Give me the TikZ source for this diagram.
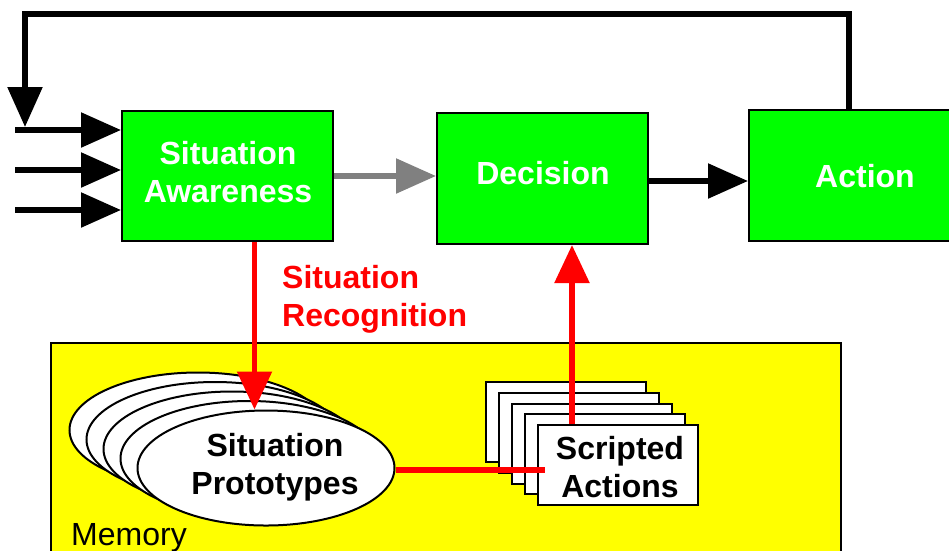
\documentclass[tikz,border=0pt]{standalone}
\usepackage{fontspec}
\setmainfont{Liberation Sans}
\usetikzlibrary{arrows.meta,shapes.geometric,calc}
\definecolor{boxgreen}{HTML}{00FF00}
\definecolor{memyellow}{HTML}{FFFF00}
\definecolor{linered}{HTML}{FF0000}
\definecolor{linegray}{HTML}{808080}
\newcommand\dgbold{\fontsize{32}{37.5}\selectfont\bfseries}
\newcommand\dgreg{\fontsize{32}{37.5}\selectfont}
\begin{document}
\begin{tikzpicture}[x=1pt,y=-1pt,
  greenbox/.style={draw=black,line width=2pt,fill=boxgreen,inner sep=0pt},
  boxtext/.style={text=white,font=\dgbold,align=center,inner sep=0pt},
  membox/.style={draw=black,line width=2pt,fill=memyellow,inner sep=0pt},
  protoell/.style={ellipse,draw=black,line width=2pt,fill=white,inner sep=0pt,minimum width=257pt,minimum height=115pt},
  scriptbox/.style={draw=black,line width=2pt,fill=white,inner sep=0pt,minimum width=160pt,minimum height=80pt},
  blacktext/.style={font=\dgbold,align=center,inner sep=0pt},
  blackarrow/.style={draw=black,line width=5.5pt,line join=miter,-{Triangle[length=40pt,width=34pt]}},
  grayarrow/.style={draw=linegray,line width=5.5pt,-{Triangle[length=40pt,width=34pt]}},
  redarrow/.style={draw=linered,line width=5.5pt,-{Triangle[length=38pt,width=34pt]}},
  redline/.style={draw=linered,line width=5.5pt}
]
\useasboundingbox (0,0) rectangle (949,550);
\fill[white] (0,0) rectangle (949,550);

% memory region
\node[membox,minimum width=790pt,minimum height=240pt,anchor=north west] (mem) at (50,342) {};
\node[anchor=west,font=\dgreg,inner sep=0pt] (memlbl) at (71,538) {Memory};

% situation prototypes (stacked ellipses)
\foreach \i in {4,3,2,1} {
  \node[protoell] (p\i) at ({266-17*\i},{468-9.5*\i}) {};
}
\node[protoell] (proto) at (266,468) {};
\node[blacktext] (prototext) at (275,467) {Situation\\Prototypes};

% scripted actions (stacked cards)
\foreach \i in {4,3,2,1} {
  \node[scriptbox] (s\i) at ({618-13*\i},{465-10.75*\i}) {};
}
\node[scriptbox] (script) at (618,465) {};
\node[blacktext] (scripttext) at (620,467) {Scripted\\Actions};

% main boxes
\node[greenbox,minimum width=211pt,minimum height=130pt] (sa) at (227.5,176) {};
\node[boxtext] (satext) at (228,172) {Situation\\Awareness};
\node[greenbox,minimum width=211pt,minimum height=131pt] (dec) at (542.5,178.5) {};
\node[boxtext] (dectext) at (543,173) {Decision};
\node[greenbox,minimum width=232pt,minimum height=131pt] (act) at (865,175.5) {};
\node[boxtext] (acttext) at (865,176) {Action};

% label
\node[anchor=west,align=left,text=linered,font=\dgbold,inner sep=0pt] (reclbl) at (282,299.5) {Situation\\Recognition};

% inputs
\foreach \y/\n in {130/1,170/2,210/3} {
  \coordinate (in\n) at (15,\y);
  \draw[blackarrow] (in\n) -- (in\n -| sa.west);
}

% feedback loop
\coordinate (fbtip) at (25,127);
\coordinate (fbtop) at (0,14);
\coordinate (fbstart) at ([xshift=-16pt]act.north);
\draw[blackarrow] (fbstart) |- (fbtip |- fbtop) -- (fbtip);

% SA -> Decision
\draw[grayarrow] (sa.east) -- (sa.east -| dec.west);

% Decision -> Action
\coordinate (d1) at ([yshift=-2.5pt]dec.east);
\draw[blackarrow] (d1) -- (d1 -| act.west);

% recognition
\coordinate (r1) at ([xshift=27pt]sa.south);
\draw[redarrow] (r1) -- (r1 |- proto.north);

% prototypes -- scripted actions
\coordinate (h1) at ([yshift=-2pt]proto.east);
\draw[redline,shorten >=-8pt] (h1) -- (h1 -| script.west);

% scripted actions -> decision
\coordinate (r2) at ([xshift=-46pt]script.north);
\draw[redarrow] (r2) -- (r2 |- dec.south);
\end{tikzpicture}
\end{document}
